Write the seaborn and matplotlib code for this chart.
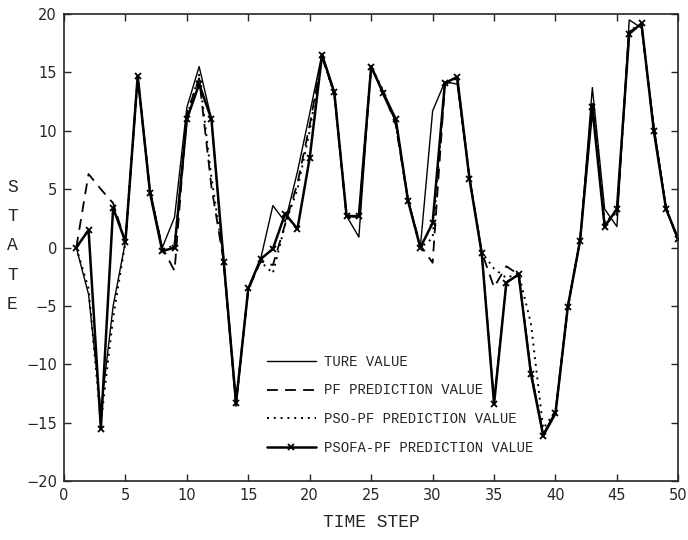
import numpy as np
import pandas as pd
import matplotlib
matplotlib.use('Agg')
import matplotlib.pyplot as plt
import seaborn as sns

steps = list(range(1, 51))

ture_value = [0, -4, -14, -5, 0.5, 14.5, 5, 0, 2.6, 12,
              15.5, 11, -1.5, -13.6, -3.5, -1, 3.6, 2.2, 6.5, 11.5,
              16.6, 13.3, 2.7, 0.9, 15.6, 13, 10.8, 4.2, 0, 11.7,
              14.2, 14, 6, -0.5, -13, -3, -2.3, -10.5, -16, -14,
              -5, 0.6, 13.7, 3.3, 1.8, 19.5, 18.8, 10.5, 3.4, 0.5]

pf_pred = [0, 6.3, 5, 3.8, 0.5, 14.6, 4.8, 0, -2, 11.5,
           14.5, 5.2, -1.2, -13.2, -3.6, -1.2, -1.5, 2, 5.5, 10.5,
           16.3, 13.2, 2.7, 2.6, 15.4, 13.3, 10.5, 4, 0.2, -1.3,
           14, 14.4, 6, -0.4, -3.4, -1.6, -2.3, -10.7, -16, -14.2,
           -5, 0.6, 12.3, 2, 2.8, 18.5, 19, 10.2, 3.3, 0.6]

pso_pf_pred = [0, -3.5, -15, -6, 0.5, 14.6, 4.7, -0.2, 0.2, 11.2,
               14.8, 6, -1, -13.4, -3.4, -1.2, -2.2, 2, 5, 10,
               16.4, 13.1, 2.6, 2.6, 15.5, 13.4, 10.6, 4.1, 0, 0.8,
               14, 14.5, 6, -0.4, -1.8, -2.6, -2.2, -6.5, -15.5, -14,
               -5.2, 0.6, 12.5, 2.2, 3, 18.6, 19.1, 10.1, 3.4, 0.6]

psofa_pf_pred = [0, 1.5, -15.5, 3.4, 0.5, 14.7, 4.7, -0.3, 0, 11,
                 14, 11, -1.2, -13.3, -3.5, -1, -0.1, 2.9, 1.6, 7.7,
                 16.5, 13.3, 2.7, 2.7, 15.5, 13.2, 11, 4, 0, 2.1,
                 14.1, 14.6, 5.9, -0.5, -13.4, -3, -2.3, -10.8, -16.1, -14.2,
                 -5.1, 0.6, 12, 1.8, 3.3, 18.3, 19.2, 10, 3.3, 0.7]

sns.set_style('ticks')
plt.rcParams['font.family'] = ['DejaVu Sans']

fig = plt.figure(figsize=(6.88, 5.40), dpi=100)
ax = fig.add_axes([0.093, 0.109, 0.893, 0.865])

sns.lineplot(x=steps, y=ture_value, ax=ax, color='black', linewidth=1.0,
             label='TURE VALUE')
sns.lineplot(x=steps, y=pf_pred, ax=ax, color='black', linewidth=1.3,
             linestyle=(0, (6, 4)), label='PF PREDICTION VALUE')
sns.lineplot(x=steps, y=pso_pf_pred, ax=ax, color='black', linewidth=1.4,
             linestyle=(0, (1, 2.5)), label='PSO-PF PREDICTION VALUE')
sns.lineplot(x=steps, y=psofa_pf_pred, ax=ax, color='black', linewidth=1.8,
             marker='x', markersize=5, markeredgewidth=1.3,
             markeredgecolor='black', markerfacecolor='black',
             label='PSOFA-PF PREDICTION VALUE')

ax.set_xlim(0, 50)
ax.set_ylim(-20, 20)
ax.set_xticks(range(0, 51, 5))
ax.set_yticks(range(-20, 21, 5))
ax.tick_params(direction='in', top=True, right=True, length=5, width=1,
               labelsize=10.5, pad=5)
for s in ax.spines.values():
    s.set_linewidth(1.2)

ax.set_xlabel('TIME STEP', family='Liberation Mono', fontsize=13, labelpad=8)
ax.set_ylabel('')
fig.text(0.018, 0.545, 'S\nT\nA\nT\nE', family='Liberation Mono', fontsize=13,
         ha='center', va='center', linespacing=1.95)

leg = ax.legend(loc='lower left', bbox_to_anchor=(0.31, 0.03), frameon=False,
                prop={'family': 'Liberation Mono', 'size': 10},
                handlelength=3.5, labelspacing=1.05, handletextpad=0.6)

fig.savefig('out.png', dpi=100)
